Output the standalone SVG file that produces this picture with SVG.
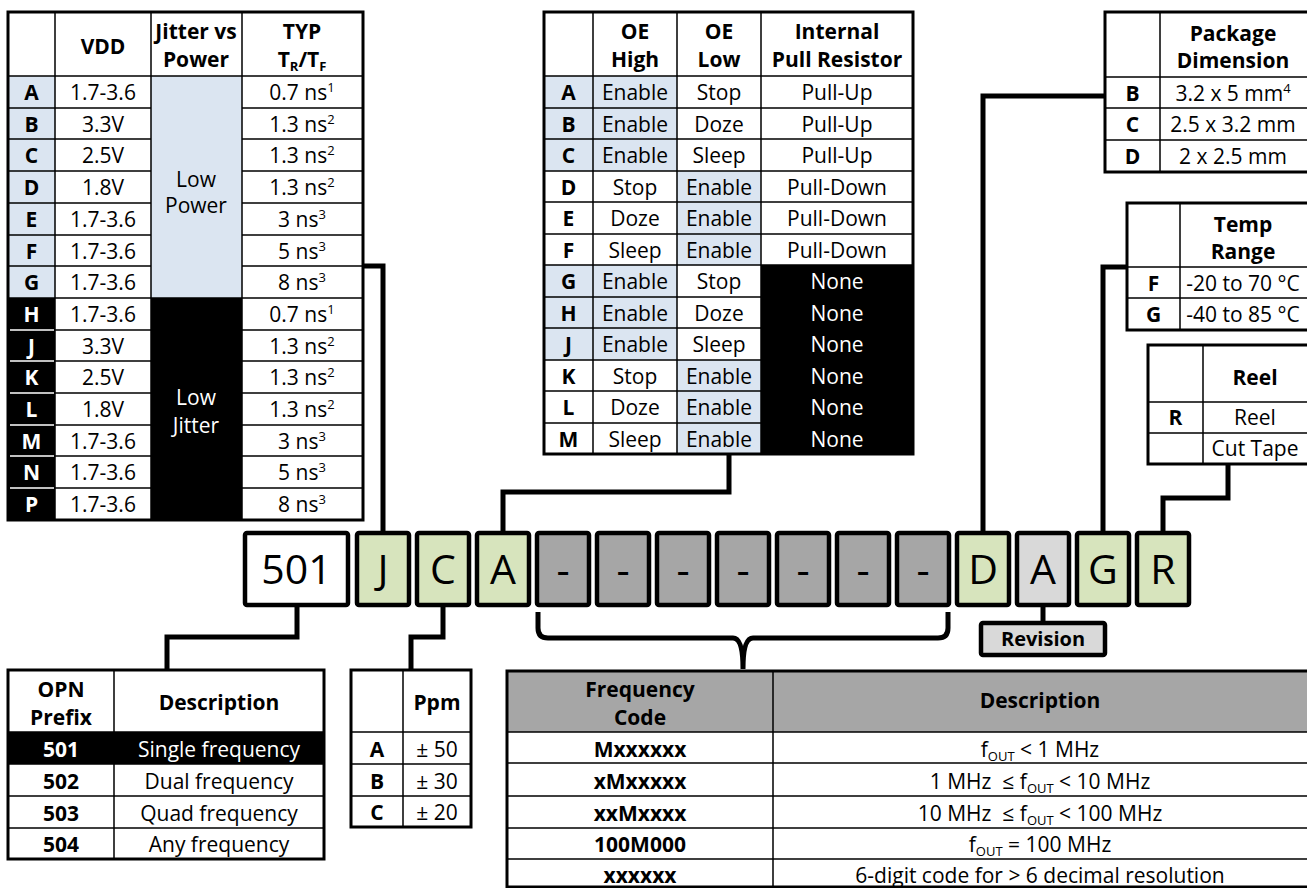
<svg xmlns="http://www.w3.org/2000/svg" width="1307" height="888" viewBox="0 0 1307 888">
<style>
.t{font-family:"Open Sans","Noto Sans","DejaVu Sans",sans-serif;font-size:21px;text-anchor:middle;fill:#000}
.b{font-weight:bold}
.w{fill:#fff}
.big{font-size:41px}
.rev{font-size:20px;font-weight:bold}
.g{stroke:#000;stroke-width:1.5;fill:none}
.gw{stroke:#fff;stroke-width:1.5;fill:none}
.o{stroke:#000;stroke-width:3;fill:none}
.c{stroke:#000;stroke-width:5;fill:none;stroke-linejoin:miter}
.box{stroke:#000;stroke-width:4.5}
.blue{fill:#dbe5f1}
.blk{fill:#000}
.grn{fill:#d7e4bd}
.dash{fill:#a6a6a6}
.lg{fill:#d9d9d9}
</style>
<rect width="1307" height="888" fill="#fff"/>

<g id="table-vdd">
<rect x="8" y="76" width="47" height="222" class="blue"/>
<rect x="8" y="298" width="47" height="222" class="blk"/>
<rect x="151" y="76" width="91" height="222" class="blue"/>
<rect x="151" y="298" width="91" height="222" class="blk"/>
<path class="g" d="M8,76H363 M8,108H151M242,108H363 M8,139H151M242,139H363 M8,171H151M242,171H363 M8,203H151M242,203H363 M8,235H151M242,235H363 M8,266H151M242,266H363 M8,298H363 M55,330H151M242,330H363 M55,361H151M242,361H363 M55,393H151M242,393H363 M55,425H151M242,425H363 M55,456H151M242,456H363 M55,488H151M242,488H363 M55,12V520 M151,12V520 M242,12V520"/>
<path class="gw" d="M10,330H54 M10,361H54 M10,393H54 M10,425H54 M10,456H54 M10,488H54"/>
<rect x="8" y="12" width="355" height="508" class="o"/>
<text class="t b" x="103" y="54">VDD</text>
<text class="t b" x="196" y="39">Jitter vs</text>
<text class="t b" x="196" y="67">Power</text>
<text class="t b" x="302" y="39">TYP</text>
<text class="t b" x="302" y="67">T<tspan font-size="13" dy="4">R</tspan><tspan dy="-4">/T</tspan><tspan font-size="13" dy="4">F</tspan></text>
<text class="t" x="196" y="187">Low</text>
<text class="t" x="196" y="213">Power</text>
<text class="t w" x="196" y="405">Low</text>
<text class="t w" x="196" y="433">Jitter</text>
<text class="t b" x="31.5" y="100">A</text><text class="t" x="103" y="100">1.7-3.6</text><text class="t" x="302" y="100">0.7 ns<tspan font-size="13" dy="-8">1</tspan></text>
<text class="t b" x="31.5" y="132">B</text><text class="t" x="103" y="132">3.3V</text><text class="t" x="302" y="132">1.3 ns<tspan font-size="13" dy="-8">2</tspan></text>
<text class="t b" x="31.5" y="163">C</text><text class="t" x="103" y="163">2.5V</text><text class="t" x="302" y="163">1.3 ns<tspan font-size="13" dy="-8">2</tspan></text>
<text class="t b" x="31.5" y="195">D</text><text class="t" x="103" y="195">1.8V</text><text class="t" x="302" y="195">1.3 ns<tspan font-size="13" dy="-8">2</tspan></text>
<text class="t b" x="31.5" y="227">E</text><text class="t" x="103" y="227">1.7-3.6</text><text class="t" x="302" y="227">3 ns<tspan font-size="13" dy="-8">3</tspan></text>
<text class="t b" x="31.5" y="259">F</text><text class="t" x="103" y="259">1.7-3.6</text><text class="t" x="302" y="259">5 ns<tspan font-size="13" dy="-8">3</tspan></text>
<text class="t b" x="31.5" y="290">G</text><text class="t" x="103" y="290">1.7-3.6</text><text class="t" x="302" y="290">8 ns<tspan font-size="13" dy="-8">3</tspan></text>
<text class="t b w" x="31.5" y="322">H</text><text class="t" x="103" y="322">1.7-3.6</text><text class="t" x="302" y="322">0.7 ns<tspan font-size="13" dy="-8">1</tspan></text>
<text class="t b w" x="31.5" y="354">J</text><text class="t" x="103" y="354">3.3V</text><text class="t" x="302" y="354">1.3 ns<tspan font-size="13" dy="-8">2</tspan></text>
<text class="t b w" x="31.5" y="385">K</text><text class="t" x="103" y="385">2.5V</text><text class="t" x="302" y="385">1.3 ns<tspan font-size="13" dy="-8">2</tspan></text>
<text class="t b w" x="31.5" y="417">L</text><text class="t" x="103" y="417">1.8V</text><text class="t" x="302" y="417">1.3 ns<tspan font-size="13" dy="-8">2</tspan></text>
<text class="t b w" x="31.5" y="449">M</text><text class="t" x="103" y="449">1.7-3.6</text><text class="t" x="302" y="449">3 ns<tspan font-size="13" dy="-8">3</tspan></text>
<text class="t b w" x="31.5" y="480">N</text><text class="t" x="103" y="480">1.7-3.6</text><text class="t" x="302" y="480">5 ns<tspan font-size="13" dy="-8">3</tspan></text>
<text class="t b w" x="31.5" y="512">P</text><text class="t" x="103" y="512">1.7-3.6</text><text class="t" x="302" y="512">8 ns<tspan font-size="13" dy="-8">3</tspan></text>
</g>

<g id="table-oe">
<rect x="544" y="76" width="133" height="95" class="blue"/>
<rect x="544" y="265" width="133" height="95" class="blue"/>
<rect x="677" y="171" width="84" height="94" class="blue"/>
<rect x="677" y="360" width="84" height="94" class="blue"/>
<rect x="761" y="265" width="152" height="189" class="blk"/>
<path class="g" d="M544,76H913 M544,108H913 M544,139H913 M544,171H913 M544,202H913 M544,234H913 M544,265H913 M544,297H761 M544,328H761 M544,360H761 M544,391H761 M544,423H761 M593,12V454 M677,12V454 M761,12V454"/>
<rect x="544" y="12" width="369" height="442" class="o"/>
<text class="t b" x="635" y="39">OE</text><text class="t b" x="635" y="67">High</text>
<text class="t b" x="719" y="39">OE</text><text class="t b" x="719" y="67">Low</text>
<text class="t b" x="837" y="39">Internal</text><text class="t b" x="837" y="67">Pull Resistor</text>
<text class="t b" x="568.5" y="100">A</text><text class="t" x="635" y="100">Enable</text><text class="t" x="719" y="100">Stop</text><text class="t" x="837" y="100">Pull-Up</text>
<text class="t b" x="568.5" y="132">B</text><text class="t" x="635" y="132">Enable</text><text class="t" x="719" y="132">Doze</text><text class="t" x="837" y="132">Pull-Up</text>
<text class="t b" x="568.5" y="163">C</text><text class="t" x="635" y="163">Enable</text><text class="t" x="719" y="163">Sleep</text><text class="t" x="837" y="163">Pull-Up</text>
<text class="t b" x="568.5" y="195">D</text><text class="t" x="635" y="195">Stop</text><text class="t" x="719" y="195">Enable</text><text class="t" x="837" y="195">Pull-Down</text>
<text class="t b" x="568.5" y="226">E</text><text class="t" x="635" y="226">Doze</text><text class="t" x="719" y="226">Enable</text><text class="t" x="837" y="226">Pull-Down</text>
<text class="t b" x="568.5" y="258">F</text><text class="t" x="635" y="258">Sleep</text><text class="t" x="719" y="258">Enable</text><text class="t" x="837" y="258">Pull-Down</text>
<text class="t b" x="568.5" y="289">G</text><text class="t" x="635" y="289">Enable</text><text class="t" x="719" y="289">Stop</text><text class="t w" x="837" y="289">None</text>
<text class="t b" x="568.5" y="321">H</text><text class="t" x="635" y="321">Enable</text><text class="t" x="719" y="321">Doze</text><text class="t w" x="837" y="321">None</text>
<text class="t b" x="568.5" y="352">J</text><text class="t" x="635" y="352">Enable</text><text class="t" x="719" y="352">Sleep</text><text class="t w" x="837" y="352">None</text>
<text class="t b" x="568.5" y="384">K</text><text class="t" x="635" y="384">Stop</text><text class="t" x="719" y="384">Enable</text><text class="t w" x="837" y="384">None</text>
<text class="t b" x="568.5" y="415">L</text><text class="t" x="635" y="415">Doze</text><text class="t" x="719" y="415">Enable</text><text class="t w" x="837" y="415">None</text>
<text class="t b" x="568.5" y="447">M</text><text class="t" x="635" y="447">Sleep</text><text class="t" x="719" y="447">Enable</text><text class="t w" x="837" y="447">None</text>
</g>

<g id="table-package">
<path class="g" d="M1160,12V172 M1105,77H1310 M1105,108H1310 M1105,140H1310"/>
<path class="o" d="M1310,12H1105V172H1310"/>
<text class="t b" x="1233" y="41">Package</text><text class="t b" x="1233" y="68">Dimension</text>
<text class="t b" x="1132.5" y="101">B</text><text class="t" x="1233" y="101">3.2 x 5 mm<tspan font-size="13" dy="-8">4</tspan></text>
<text class="t b" x="1132.5" y="132">C</text><text class="t" x="1233" y="132">2.5 x 3.2 mm</text>
<text class="t b" x="1132.5" y="164">D</text><text class="t" x="1233" y="164">2 x 2.5 mm</text>
</g>

<g id="table-temp">
<path class="g" d="M1180,203V330 M1127,267H1310 M1127,298H1310"/>
<path class="o" d="M1310,203H1127V330H1310"/>
<text class="t b" x="1243" y="232">Temp</text><text class="t b" x="1243" y="259">Range</text>
<text class="t b" x="1153.5" y="291">F</text><text class="t" x="1243" y="291">-20 to 70 °C</text>
<text class="t b" x="1153.5" y="322">G</text><text class="t" x="1243" y="322">-40 to 85 °C</text>
</g>

<g id="table-reel">
<path class="g" d="M1203,345V464 M1148,402H1310 M1148,433H1310"/>
<path class="o" d="M1310,345H1148V464H1310"/>
<text class="t b" x="1255" y="385">Reel</text>
<text class="t b" x="1175.5" y="425">R</text><text class="t" x="1255" y="425">Reel</text>
<text class="t" x="1255" y="456">Cut Tape</text>
</g>

<g id="connectors">
<path class="c" d="M363,266H383V531"/>
<path class="c" d="M729,454V492H503V531"/>
<path class="c" d="M1105,96H983V531"/>
<path class="c" d="M1127,267H1103V531"/>
<path class="c" d="M1163,531V498H1228V464"/>
<path class="c" d="M297,607V637H167V670"/>
<path class="c" d="M443,607V637H411V670"/>
<path class="c" d="M1043,607V621"/>
<path class="c" d="M538,612V628Q538,638 548,638H733Q743,638 743,669Q743,638 753,638H938Q948,638 948,628V612"/>
</g>

<g id="pn-501"><rect x="245" y="533" width="103" height="72" rx="2" fill="#fff" class="box"/><text class="t big" x="296.5" y="584">501</text></g>
<g id="pn-j"><rect x="357" y="533" width="52" height="72" rx="2" class="box grn"/><text class="t big" x="383" y="584">J</text></g>
<g id="pn-c"><rect x="417" y="533" width="52" height="72" rx="2" class="box grn"/><text class="t big" x="443" y="584">C</text></g>
<g id="pn-a"><rect x="477" y="533" width="52" height="72" rx="2" class="box grn"/><text class="t big" x="503" y="584">A</text></g>
<g id="pn-f1"><rect x="537" y="533" width="52" height="72" rx="2" class="box dash"/><text class="t big" x="563" y="584">-</text></g>
<g id="pn-f2"><rect x="597" y="533" width="52" height="72" rx="2" class="box dash"/><text class="t big" x="623" y="584">-</text></g>
<g id="pn-f3"><rect x="657" y="533" width="52" height="72" rx="2" class="box dash"/><text class="t big" x="683" y="584">-</text></g>
<g id="pn-f4"><rect x="717" y="533" width="52" height="72" rx="2" class="box dash"/><text class="t big" x="743" y="584">-</text></g>
<g id="pn-f5"><rect x="777" y="533" width="52" height="72" rx="2" class="box dash"/><text class="t big" x="803" y="584">-</text></g>
<g id="pn-f6"><rect x="837" y="533" width="52" height="72" rx="2" class="box dash"/><text class="t big" x="863" y="584">-</text></g>
<g id="pn-f7"><rect x="897" y="533" width="52" height="72" rx="2" class="box dash"/><text class="t big" x="923" y="584">-</text></g>
<g id="pn-d"><rect x="957" y="533" width="52" height="72" rx="2" class="box grn"/><text class="t big" x="983" y="584">D</text></g>
<g id="pn-rev"><rect x="1017" y="533" width="52" height="72" rx="2" class="box lg"/><text class="t big" x="1043" y="584">A</text></g>
<g id="pn-g"><rect x="1077" y="533" width="52" height="72" rx="2" class="box grn"/><text class="t big" x="1103" y="584">G</text></g>
<g id="pn-r"><rect x="1137" y="533" width="52" height="72" rx="2" class="box grn"/><text class="t big" x="1163" y="584">R</text></g>

<g id="revision"><rect x="981" y="623" width="124" height="32" rx="2" class="box lg"/><text class="t rev" x="1043" y="646">Revision</text></g>

<g id="table-opn">
<rect x="8" y="732" width="316" height="32" class="blk"/>
<path class="g" d="M114,670V859 M8,732H324 M8,764H324 M8,796H324 M8,828H324"/>
<rect x="8" y="670" width="316" height="189" class="o"/>
<text class="t b" x="61" y="697">OPN</text><text class="t b" x="61" y="725">Prefix</text>
<text class="t b" x="219" y="710">Description</text>
<text class="t b w" x="61" y="757">501</text><text class="t w" x="219" y="757">Single frequency</text>
<text class="t b" x="61" y="789">502</text><text class="t" x="219" y="789">Dual frequency</text>
<text class="t b" x="61" y="821">503</text><text class="t" x="219" y="821">Quad frequency</text>
<text class="t b" x="61" y="852">504</text><text class="t" x="219" y="852">Any frequency</text>
</g>

<g id="table-ppm">
<path class="g" d="M403,670V827 M351,732H471 M351,764H471 M351,796H471"/>
<rect x="351" y="670" width="120" height="157" class="o"/>
<text class="t b" x="437" y="710">Ppm</text>
<text class="t b" x="377" y="757">A</text><text class="t" x="437" y="757">± 50</text>
<text class="t b" x="377" y="789">B</text><text class="t" x="437" y="789">± 30</text>
<text class="t b" x="377" y="820">C</text><text class="t" x="437" y="820">± 20</text>
</g>

<g id="table-freq">
<rect x="507" y="671" width="803" height="61" class="dash"/>
<path class="g" d="M773,671V887 M507,732H1310 M507,763H1310 M507,796H1310 M507,828H1310 M507,859H1310"/>
<path class="o" d="M1310,671H507V887H1310"/>
<text class="t b" x="640" y="697">Frequency</text><text class="t b" x="640" y="725">Code</text>
<text class="t b" x="1040" y="708">Description</text>
<text class="t b" x="640" y="757">Mxxxxxx</text><text class="t" x="1040" y="757">f<tspan font-size="13" dy="4">OUT</tspan><tspan dy="-4"> &lt; 1 MHz</tspan></text>
<text class="t b" x="640" y="789">xMxxxxx</text><text class="t" x="1040" y="789">1 MHz&#160; ≤ f<tspan font-size="13" dy="4">OUT</tspan><tspan dy="-4"> &lt; 10 MHz</tspan></text>
<text class="t b" x="640" y="821">xxMxxxx</text><text class="t" x="1040" y="821">10 MHz&#160; ≤ f<tspan font-size="13" dy="4">OUT</tspan><tspan dy="-4"> &lt; 100 MHz</tspan></text>
<text class="t b" x="640" y="852">100M000</text><text class="t" x="1040" y="852">f<tspan font-size="13" dy="4">OUT</tspan><tspan dy="-4"> = 100 MHz</tspan></text>
<text class="t b" x="640" y="883">xxxxxx</text><text class="t" x="1040" y="883">6-digit code for &gt; 6 decimal resolution</text>
</g>
</svg>
